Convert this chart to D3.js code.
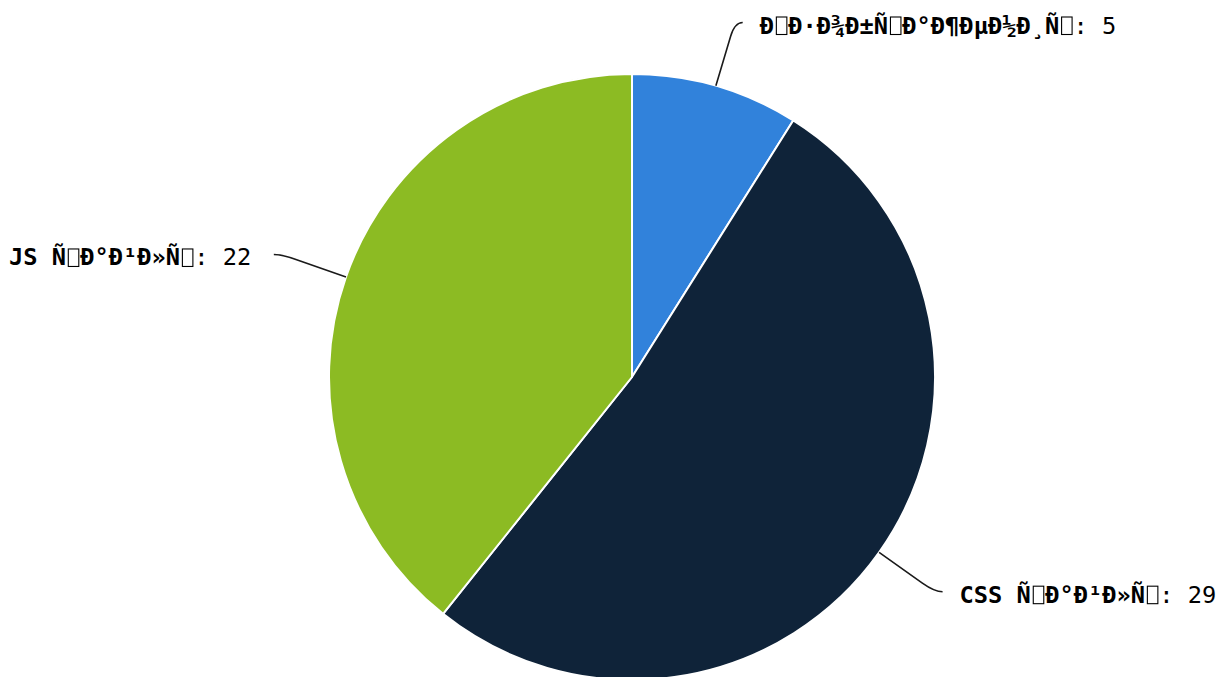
<!DOCTYPE html>
<html>
<head>
<meta charset="utf-8">
<script src="https://cdn.jsdelivr.net/npm/d3@7"></script>
<style>
html,body{margin:0;padding:0;background:#fff;}
svg{display:block;}
</style>
</head>
<body>
<svg id="chart" width="1228" height="677"></svg>
<script>
// Data (labels as they appear in the reference: UTF-8 Russian shown as Latin-1)
const categories = [
  "\u00D0\u0098\u00D0\u00B7\u00D0\u00BE\u00D0\u00B1\u00D1\u0080\u00D0\u00B0\u00D0\u00B6\u00D0\u00B5\u00D0\u00BD\u00D0\u00B8\u00D1\u008F",
  "CSS \u00D1\u0084\u00D0\u00B0\u00D0\u00B9\u00D0\u00BB\u00D1\u008B",
  "JS \u00D1\u0084\u00D0\u00B0\u00D0\u00B9\u00D0\u00BB\u00D1\u008B"
];
const values = [5, 29, 22];
const colors = ["#3182db", "#0f2339", "#8cbb23"];

const cx = 632, cy = 377, r = 303;
const FONT = "'DejaVu Sans Mono', monospace";
const FS = 23.7;
const svg = d3.select("#chart");
const g = svg.append("g").attr("transform", `translate(${cx},${cy})`);

// measure normal monospace advance
const probe = svg.append("text").attr("font-family", FONT).attr("font-size", FS + "px")
  .attr("font-weight", "bold").text("MMMMMMMMMM");
const ADV = probe.node().getComputedTextLength() / 10;
probe.remove();

const data = categories.map((c, i) => ({name: c, value: values[i], color: colors[i]}));
const pie = d3.pie().value(d => d.value).sort(null);
const arcs = pie(data);
const arc = d3.arc().innerRadius(0).outerRadius(r);

g.selectAll("path.slice").data(arcs).enter().append("path")
  .attr("class", "slice")
  .attr("d", arc)
  .attr("fill", d => d.data.color)
  .attr("stroke", "#ffffff")
  .attr("stroke-width", 2)
  .attr("stroke-linejoin", "round");

const isCtrl = ch => { const c = ch.charCodeAt(0); return c >= 0x80 && c <= 0x9F; };
const labelR = r + 68;

arcs.forEach(a => {
  const mid = (a.startAngle + a.endAngle) / 2;
  const sx = Math.sin(mid), sy = -Math.cos(mid);
  const dir = sx >= 0 ? 1 : -1;
  const ex = sx * r, ey = sy * r;
  const endX = sx * labelR + dir * 8, endY = sy * labelR + (sy < -0.9 ? 2 : 0);
  const Cx = endX - dir * 8, Cy = endY;
  const Px = Cx + (ex - Cx) * 0.22, Py = Cy + (ey - Cy) * 0.22;
  const p = d3.path();
  p.moveTo(ex, ey);
  p.lineTo(Px, Py);
  p.quadraticCurveTo(Cx, Cy, endX, endY);
  g.append("path").attr("d", p.toString())
    .attr("fill", "none").attr("stroke", "#1a1a1a").attr("stroke-width", 1.6);

  const baseY = endY + 11;
  const t = g.append("text")
    .attr("x", endX + dir * (dir > 0 ? 17 : 22.5))
    .attr("y", baseY)
    .attr("text-anchor", dir > 0 ? "start" : "end")
    .attr("font-family", FONT)
    .attr("font-size", FS + "px")
    .attr("fill", "#000");

  // split name into runs of normal chars and control chars
  const segs = [];
  for (const ch of a.data.name) {
    const c = isCtrl(ch);
    if (segs.length && !c && !segs[segs.length - 1].ctrl) segs[segs.length - 1].s += ch;
    else segs.push({s: ch, ctrl: c});
  }
  const ctrlIdx = [];
  let idx = 0;
  const ctrlSpans = [];
  segs.forEach(sg => {
    const ts = t.append("tspan").attr("font-weight", "bold").text(sg.s);
    if (sg.ctrl) { ctrlIdx.push(idx); ctrlSpans.push(ts); }
    idx += sg.s.length;
  });
  t.append("tspan").text(": " + a.data.value);

  // give each (invisible) control char one monospace cell
  ctrlSpans.forEach(ts => {
    const w = ts.node().getComputedTextLength();
    ts.attr("letter-spacing", (ADV - w) + "px");
  });
  // draw the missing-glyph boxes the reference shows for those characters
  ctrlIdx.forEach(i => {
    const pos = t.node().getStartPositionOfChar(i);
    g.append("rect")
      .attr("x", pos.x + (ADV - 10.5) / 2 + 0.5)
      .attr("y", baseY - 16.5)
      .attr("width", 10.5)
      .attr("height", 17.5)
      .attr("fill", "none")
      .attr("stroke", "#000")
      .attr("stroke-width", 1.1);
  });
});
</script>
</body>
</html>
